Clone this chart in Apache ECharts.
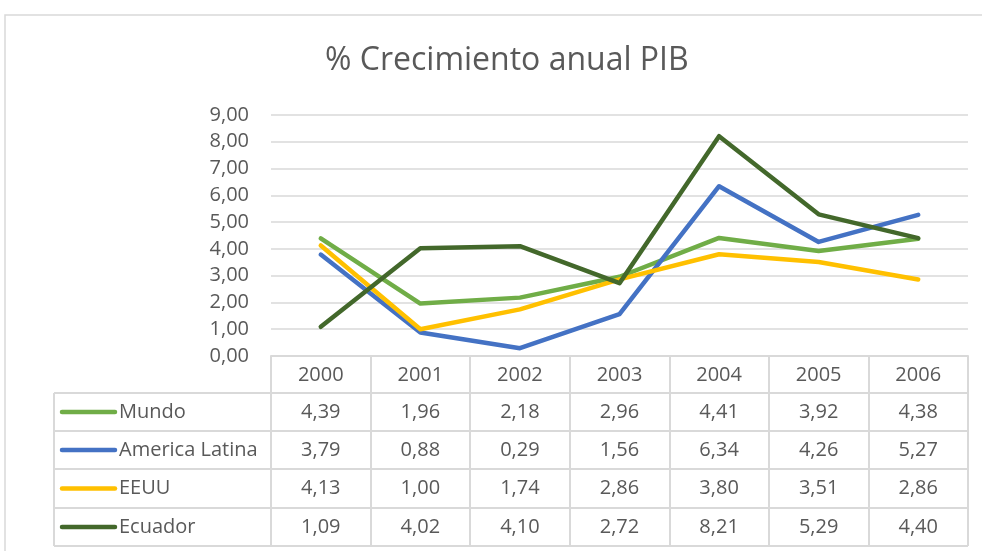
<!DOCTYPE html>
<html>
<head>
<meta charset="UTF-8" />
<script type="text/javascript" src="https://cdn.jsdelivr.net/npm/echarts@6/dist/echarts.min.js"></script>
<title>% Crecimiento anual PIB</title>
<style>
	html, body { margin: 0; padding: 0; background: #fff; }
	#main { width: 982px; height: 551px; }
</style>
</head>
<body>
	<div id="main"></div>
<script type="text/javascript">
	var years = ['2000', '2001', '2002', '2003', '2004', '2005', '2006']
	var names = ['Mundo', 'America Latina', 'EEUU', 'Ecuador']
	var mundo = [4.39, 1.96, 2.18, 2.96, 4.41, 3.92, 4.38]
	var americaLatina = [3.79, 0.88, 0.29, 1.56, 6.34, 4.26, 5.27]
	var eeuu = [4.13, 1.00, 1.74, 2.86, 3.80, 3.51, 2.86]
	var ecuador = [1.09, 4.02, 4.10, 2.72, 8.21, 5.29, 4.40]
	var colors = ['#70AD47', '#4472C4', '#FFC000', '#43682B']

	var font = 'Open Sans'
	var txt = '#595959'
	var lineCol = '#D9D9D9'

	// table geometry
	var gLeft = 271, gRight = 968, gTop = 115, gBottom = 356
	var rowTops = [356, 393, 431, 469, 508, 546]
	var labelLeft = 54

	function fmt(v) {
		return v.toFixed(2).replace('.', ',')
	}

	var seriesData = [mundo, americaLatina, eeuu, ecuador]

	var myChart = echarts.init(document.getElementById('main'))

	var option = {
		animation: false,
		textStyle: { fontFamily: font },
		title: {
			text: '% Crecimiento anual PIB',
			left: 320,
			top: 40,
			textStyle: { fontFamily: font, fontSize: 32, fontWeight: 'normal', color: txt }
		},
		grid: { left: gLeft, right: 982 - gRight, top: gTop, bottom: 551 - gBottom },
		xAxis: {
			type: 'category',
			data: years,
			boundaryGap: true,
			axisLine: { lineStyle: { color: lineCol, width: 2 } },
			axisTick: { show: true, alignWithLabel: false, length: rowTops[5] - gBottom, lineStyle: { color: lineCol, width: 2 } },
			axisLabel: { margin: 9, fontSize: 20, color: txt, fontFamily: font }
		},
		yAxis: {
			type: 'value',
			min: 0,
			max: 9,
			interval: 1,
			axisLine: { show: false },
			axisTick: { show: false },
			axisLabel: { formatter: fmt, fontSize: 20, color: txt, margin: 22, fontFamily: font },
			splitLine: { lineStyle: { color: lineCol, width: 1.5 } }
		},
		series: []
	}

	for (var i = 0; i < names.length; i++) {
		option.series.push({
			name: names[i],
			type: 'line',
			data: seriesData[i],
			symbol: 'none',
			lineStyle: { color: colors[i], width: 4.5, cap: 'round', join: 'round' },
			itemStyle: { color: colors[i] }
		})
	}
	myChart.setOption(option)

	// data table under the axis
	var g = []
	// horizontal lines
	for (var r = 1; r < rowTops.length; r++) {
		g.push({ type: 'line', shape: { x1: labelLeft, y1: rowTops[r], x2: gRight, y2: rowTops[r] },
			style: { stroke: lineCol, lineWidth: 2 } })
	}
	// left column vertical line
	g.push({ type: 'line', shape: { x1: labelLeft, y1: rowTops[1], x2: labelLeft, y2: rowTops[5] },
		style: { stroke: lineCol, lineWidth: 2 } })
	// outer chart border
	g.push({ type: 'rect', shape: { x: 5, y: 15, width: 1000, height: 600 },
		style: { fill: 'none', stroke: lineCol, lineWidth: 1.5 }, z: -1 })

	for (var s = 0; s < names.length; s++) {
		var yc = (rowTops[s + 1] + rowTops[s + 2]) / 2
		g.push({ type: 'line', shape: { x1: 62, y1: yc, x2: 115, y2: yc },
			style: { stroke: colors[s], lineWidth: 4.5, lineCap: 'round' } })
		g.push({ type: 'text', x: 119, y: yc,
			style: { text: names[s], fill: txt, font: '20px "' + font + '"', textVerticalAlign: 'middle', textAlign: 'left' } })
		for (var c = 0; c < years.length; c++) {
			var xc = myChart.convertToPixel({ xAxisIndex: 0 }, years[c])
			g.push({ type: 'text', x: xc, y: yc,
				style: { text: fmt(seriesData[s][c]), fill: txt, font: '20px "' + font + '"', textVerticalAlign: 'middle', textAlign: 'center' } })
		}
	}
	myChart.setOption({ graphic: g })
</script>
</body>
</html>
